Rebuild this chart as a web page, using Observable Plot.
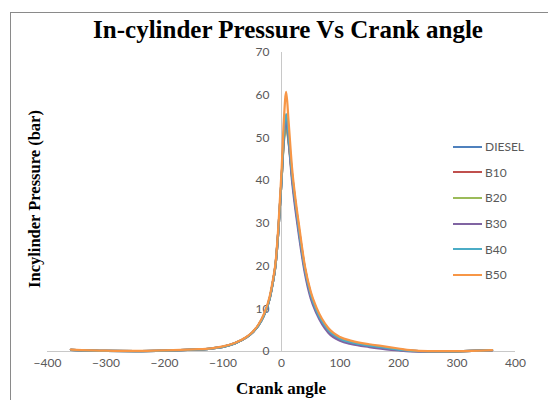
<!DOCTYPE html>
<html>
<head>
<meta charset="utf-8">
<script src="https://cdn.jsdelivr.net/npm/d3@7"></script>
<script src="https://cdn.jsdelivr.net/npm/@observablehq/plot@0.6"></script>
<style>
  html, body { margin: 0; padding: 0; background: #fff; overflow: hidden; }
  #wrap { position: relative; width: 548px; height: 400px; overflow: hidden; }
  #frame { position: absolute; left: 10px; top: 12px; width: 700px; height: 500px; border: 1px solid #8a8a8a; box-sizing: border-box; }
  #title { position: absolute; left: 0; width: 576px; top: 16px; line-height: 30px; text-align: center; font: bold 25px "Liberation Serif", "Times New Roman", serif; color: #000; white-space: nowrap; }
  #chart { position: absolute; left: 0; top: 0; }
  #legend { position: absolute; left: 453px; top: 134px; font: 12px Lato, "Open Sans", sans-serif; color: #595959; }
  .item { display: flex; align-items: center; height: 25.6px; }
  .sw { width: 29px; height: 2px; margin-right: 3px; }
</style>
</head>
<body>
<div id="wrap">
  <div id="frame"></div>
  <div id="chart"></div>
  <div id="title">In-cylinder Pressure Vs Crank angle</div>
  <div id="legend"></div>
</div>
<script>
// Crank angle (deg)
const angles = [-360,-300,-250,-200,-150,-120,-100,-80,-60,-50,-40,-30,-20,-15,-10,-5,0,4,8,12,18,25,30,40,50,60,80,100,120,150,170,200,220,250,300,360];
// In-cylinder pressure (bar) per fuel
const diesel = [0.4,0.15,0.1,0.2,0.45,0.7,1.1,1.9,3.3,4.4,6.0,8.5,12.5,16,20.5,29,40,50,54.5,50,41,33,28,19,13,9.3,4.8,2.8,2.0,1.3,0.9,0.4,0.15,0.05,0.05,0.3];
const b10 =    [0.4,0.15,0.1,0.2,0.45,0.7,1.1,1.9,3.3,4.4,6.0,8.5,12.5,16,20.5,29,40,49.5,53.2,49.5,41.5,33.5,28.5,19.5,13.5,9.7,5.1,3.0,2.2,1.5,1.0,0.5,0.2,0.05,0.05,0.3];
const b20 =    [0.4,0.15,0.1,0.2,0.45,0.7,1.1,1.9,3.3,4.4,6.0,8.5,12.5,16,20.5,29,40,49,52.5,49,41,33,28,19.2,13.2,9.5,5.0,2.9,2.1,1.4,0.95,0.45,0.15,0.05,0.05,0.3];
const b30 =    [0.4,0.15,0.1,0.2,0.45,0.7,1.1,1.9,3.3,4.4,6.0,8.5,12.5,16,20.5,29,40,50,53.8,49.5,40,32,27,18.3,12.4,8.9,4.4,2.5,1.7,1.05,0.7,0.25,0.05,0.0,0.05,0.25];
const b40 =    [0.4,0.15,0.1,0.2,0.45,0.7,1.1,1.9,3.3,4.4,6.0,8.5,12.5,16,20.5,29,40,51,55.6,51,41.5,33.5,28.3,19.3,13.3,9.5,5.0,3.0,2.1,1.4,1.0,0.45,0.15,0.05,0.05,0.3];
const b50 =    [0.45,0.2,0.12,0.25,0.5,0.75,1.2,2.0,3.4,4.5,6.2,8.8,13,16.5,21,30,42,54,60.8,54,43,34.5,29.5,20,14,10.2,5.5,3.4,2.5,1.7,1.3,0.7,0.3,0.1,0.1,0.35];

const seriesNames = ["DIESEL","B10","B20","B30","B40","B50"];
const seriesValues = [diesel, b10, b20, b30, b40, b50];
const seriesColors = ["#4F81BD","#C0504D","#9BBB59","#8064A2","#4BACC6","#F79646"];

const xTicks = [-400,-300,-200,-100,0,100,200,300,400];
const yTicks = [0,10,20,30,40,50,60,70];
const xLabel = "Crank angle";
const yLabel = "Incylinder Pressure (bar)";

const rows = [];
seriesNames.forEach((name, i) => {
  angles.forEach((a, j) => rows.push({series: name, angle: a, p: seriesValues[i][j]}));
});

const font = 'Lato, "Open Sans", sans-serif';
const chart = Plot.plot({
  width: 548,
  height: 400,
  marginLeft: 47,
  marginRight: 33,
  marginTop: 52,
  marginBottom: 49,
  style: {background: "transparent", fontFamily: font, fontSize: "12px", color: "#595959"},
  x: {domain: [-400, 400], ticks: xTicks},
  y: {domain: [0, 70], axis: null},
  color: {domain: seriesNames, range: seriesColors},
  marks: [
    Plot.ruleY([0], {x1: -400, x2: 400, stroke: "#c8c8c8", strokeWidth: 1}),
    Plot.ruleX([0], {y1: 0, y2: 70, stroke: "#c8c8c8", strokeWidth: 1}),
    Plot.axisX({ticks: xTicks, tickSize: 0, tickPadding: 7, label: null, fill: "#595959", fontSize: 12}),
    Plot.text(yTicks, {x: 0, y: d => d, text: d => String(d), textAnchor: "end", dx: -12, fill: "#595959", fontSize: 12}),
    Plot.line(rows, {x: "angle", y: "p", z: "series", stroke: "series", strokeWidth: 2.25, curve: "monotone-x"})
  ]
});
document.getElementById("chart").appendChild(chart);

// axis titles
const svg = d3.select(chart);
svg.append("text")
  .attr("x", 281).attr("y", 394)
  .attr("text-anchor", "middle")
  .style("font", 'bold 17px "Liberation Serif", "Times New Roman", serif')
  .attr("fill", "#000")
  .text(xLabel);
svg.append("text")
  .attr("transform", "translate(40,199) rotate(-90)")
  .attr("text-anchor", "middle")
  .style("font", 'bold 16.5px "Liberation Serif", "Times New Roman", serif')
  .attr("fill", "#000")
  .text(yLabel);

// legend
const leg = document.getElementById("legend");
seriesNames.forEach((name, i) => {
  const it = document.createElement("div");
  it.className = "item";
  const sw = document.createElement("div");
  sw.className = "sw";
  sw.style.background = seriesColors[i];
  const t = document.createElement("span");
  t.textContent = name;
  it.appendChild(sw); it.appendChild(t);
  leg.appendChild(it);
});
</script>
</body>
</html>
